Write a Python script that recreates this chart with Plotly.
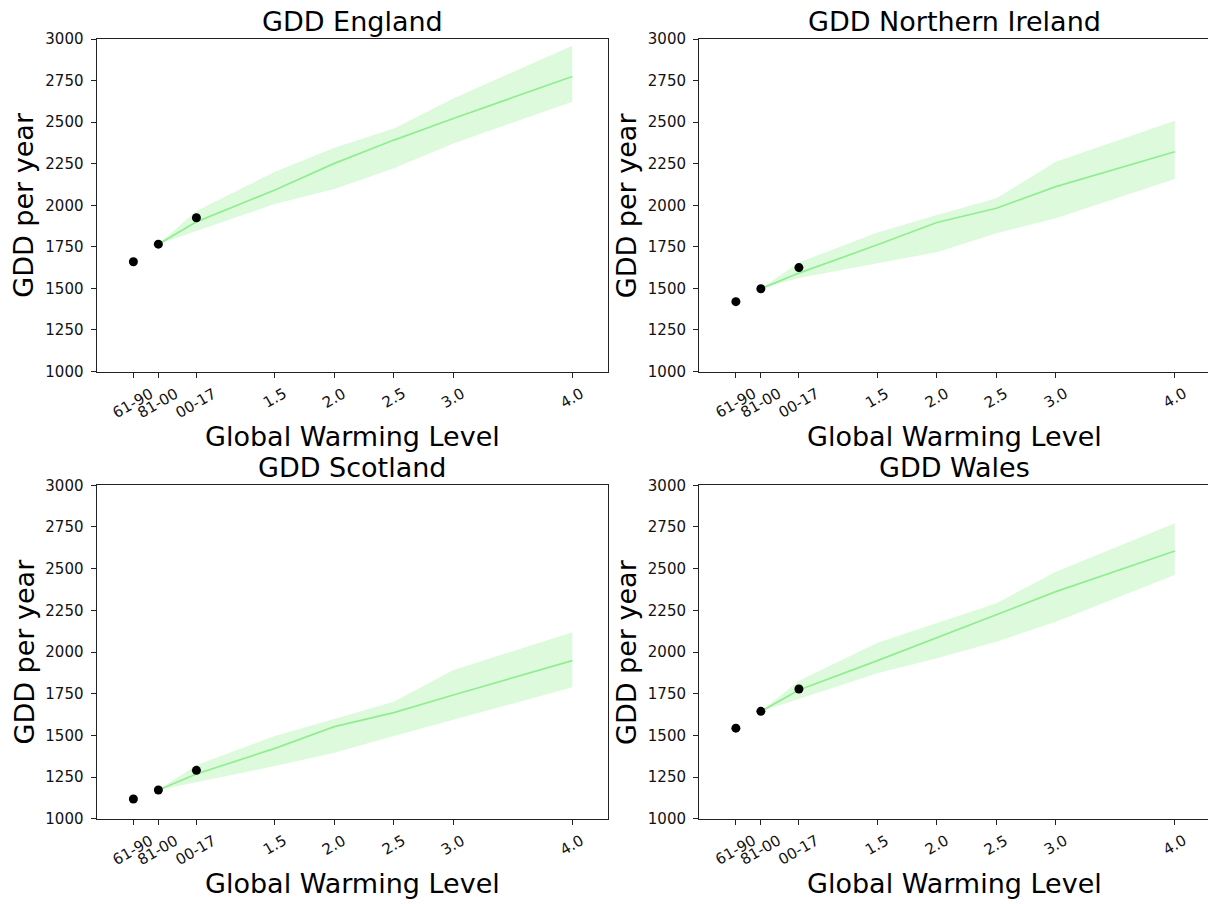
import plotly.graph_objects as go

# ---- data -------------------------------------------------------------
regions = ["England", "Northern Ireland", "Scotland", "Wales"]

# observed baseline periods, placed at their global warming level
period_labels = ["61-90", "81-00", "00-17"]
period_x = [0.31, 0.52, 0.84]

# projected global warming levels
gwl_labels = ["1.5", "2.0", "2.5", "3.0", "4.0"]
gwl_x = [1.5, 2.0, 2.5, 3.0, 4.0]

# observed GDD per year for 61-90, 81-00, 00-17
england_obs = [1660, 1766, 1925]
ni_obs = [1420, 1498, 1625]
scotland_obs = [1118, 1172, 1290]
wales_obs = [1543, 1644, 1778]

# projections at 00-17, 1.5, 2.0, 2.5, 3.0, 4.0 (median, upper, lower)
england_mid = [1900, 2092, 2252, 2392, 2522, 2774]
england_hi = [1965, 2202, 2346, 2462, 2642, 2960]
england_lo = [1845, 2008, 2098, 2222, 2372, 2622]

ni_mid = [1592, 1762, 1896, 1982, 2112, 2322]
ni_hi = [1656, 1836, 1942, 2042, 2262, 2508]
ni_lo = [1562, 1652, 1718, 1832, 1922, 2158]

scotland_mid = [1268, 1422, 1552, 1636, 1742, 1948]
scotland_hi = [1322, 1496, 1598, 1702, 1892, 2118]
scotland_lo = [1218, 1316, 1396, 1496, 1596, 1788]

wales_mid = [1772, 1948, 2086, 2228, 2362, 2606]
wales_hi = [1828, 2056, 2176, 2292, 2482, 2772]
wales_lo = [1716, 1872, 1962, 2062, 2182, 2462]

y_ticks = [1000, 1250, 1500, 1750, 2000, 2250, 2500, 2750, 3000]

series = [
    (england_obs, england_mid, england_hi, england_lo),
    (ni_obs, ni_mid, ni_hi, ni_lo),
    (scotland_obs, scotland_mid, scotland_hi, scotland_lo),
    (wales_obs, wales_mid, wales_hi, wales_lo),
]

# ---- layout geometry ---------------------------------------------------
W, H = 1208, 904
FONT = "DejaVu Sans"
INK = "#111111"
SPINE = "#222222"
GREEN = "#90ee90"
BAND = "rgba(144,238,144,0.3)"

x_dom_left = [96.5 / W, 608 / W]
x_dom_right = [699 / W, 1.0]
y_dom_top = [1 - 371.5 / H, 1 - 39 / H]
y_dom_bot = [1 - 818.7 / H, 1 - 485.3 / H]
units_per_px = 4.3 / (608 - 96.5)

panels = [
    (x_dom_left, y_dom_top, [0, 4.3], True),
    (x_dom_right, y_dom_top, [0, (W - 699) * units_per_px], False),
    (x_dom_left, y_dom_bot, [0, 4.3], True),
    (x_dom_right, y_dom_bot, [0, (W - 699) * units_per_px], False),
]

fig = go.Figure()
annotations = []
all_tick_x = period_x + gwl_x
all_tick_text = period_labels + gwl_labels

for i, (name, (obs, mid, hi, lo), (xd, yd, xr, full_box)) in enumerate(
        zip(regions, series, panels), start=1):
    xa = "x" if i == 1 else f"x{i}"
    ya = "y" if i == 1 else f"y{i}"

    proj_x = [period_x[1], period_x[2]] + gwl_x
    upper = [obs[1]] + hi
    lower = [obs[1]] + lo
    median = [obs[1]] + mid

    fig.add_trace(go.Scatter(
        x=proj_x + proj_x[::-1], y=upper + lower[::-1],
        fill="toself", fillcolor=BAND, line=dict(width=0),
        mode="lines", hoverinfo="skip", showlegend=False,
        xaxis=xa, yaxis=ya))
    fig.add_trace(go.Scatter(
        x=proj_x, y=median, mode="lines",
        line=dict(color=GREEN, width=1.7), showlegend=False,
        xaxis=xa, yaxis=ya))
    fig.add_trace(go.Scatter(
        x=period_x, y=obs, mode="markers",
        marker=dict(color="black", size=9), showlegend=False,
        xaxis=xa, yaxis=ya))

    axis_common = dict(showgrid=False, zeroline=False, showline=True,
                       linecolor=SPINE, linewidth=1, ticks="outside",
                       ticklen=5, tickwidth=1, tickcolor=SPINE,
                       automargin=False)
    fig.layout[f"xaxis{'' if i == 1 else i}"] = dict(
        domain=xd, range=xr, anchor=ya, tickvals=all_tick_x,
        showticklabels=False, mirror=True, **axis_common)
    fig.layout[f"yaxis{'' if i == 1 else i}"] = dict(
        domain=yd, range=[1000, 3000], anchor=xa, tickvals=y_ticks,
        tickfont=dict(family=FONT, size=15, color=INK),
        ticklabelstandoff=4, mirror=full_box, **axis_common)

    # rotated x tick labels, centred under each tick
    for tx, tt in zip(all_tick_x, all_tick_text):
        annotations.append(dict(
            x=tx, y=0, xref=xa, yref=f"{ya} domain", text=tt,
            textangle=-30, showarrow=False, xanchor="center",
            yanchor="top", yshift=-10,
            font=dict(family=FONT, size=15, color=INK)))

    x0 = xd[0] * W
    x1 = 1210.5 if not full_box else xd[1] * W
    cx = (x0 + x1) / 2
    top_px = (1 - yd[1]) * H
    bot_px = (1 - yd[0]) * H
    # panel title
    annotations.append(dict(
        x=cx / W, y=1 - (top_px - 18) / H, xref="paper", yref="paper",
        text=f"GDD {name}", showarrow=False, xanchor="center",
        yanchor="middle", font=dict(family=FONT, size=27, color="black")))
    # x axis title
    annotations.append(dict(
        x=cx / W, y=1 - (bot_px + 65) / H, xref="paper", yref="paper",
        text="Global Warming Level", showarrow=False, xanchor="center",
        yanchor="middle", font=dict(family=FONT, size=27, color="black")))
    # y axis title
    annotations.append(dict(
        x=(x0 - 73) / W, y=(yd[0] + yd[1]) / 2, xref="paper", yref="paper",
        text="GDD per year", showarrow=False, textangle=-90,
        xanchor="center", yanchor="middle",
        font=dict(family=FONT, size=27, color="black")))

fig.update_layout(
    width=W, height=H, margin=dict(l=0, r=0, t=0, b=0, pad=0),
    paper_bgcolor="white", plot_bgcolor="white",
    annotations=annotations, showlegend=False,
    font=dict(family=FONT),
)

fig.write_html("out.html")
